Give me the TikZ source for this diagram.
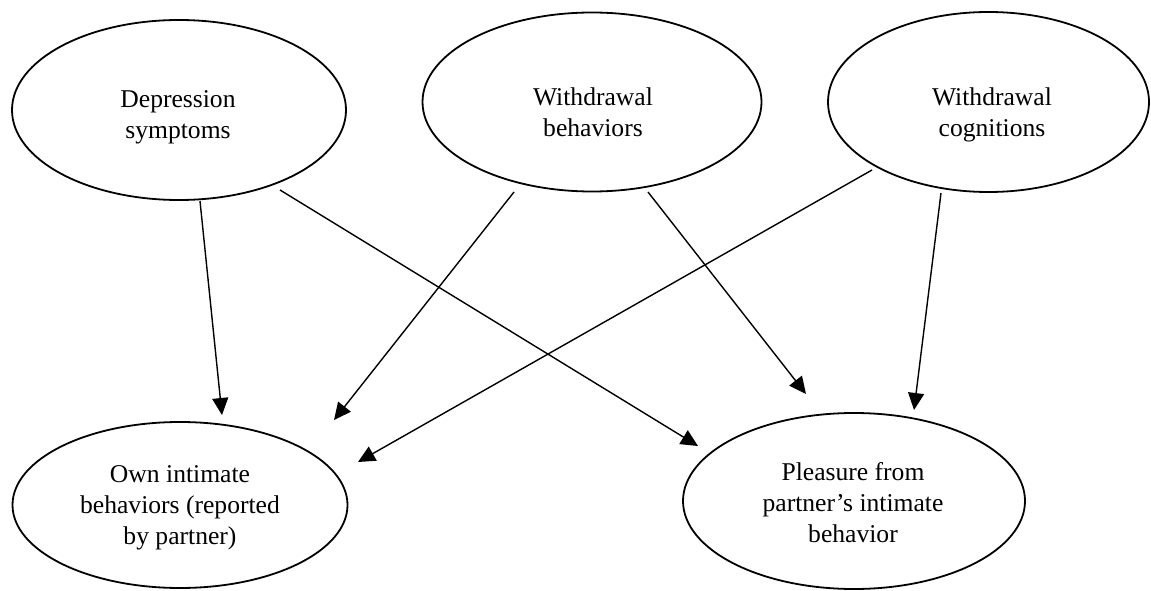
\documentclass[tikz,border=0pt]{standalone}
\usepackage{fontspec}
\setmainfont{Liberation Serif}
\usetikzlibrary{shapes.geometric,arrows.meta}
\begin{document}
\begin{tikzpicture}[x=1pt,y=-1pt,
  oval/.style={draw, ellipse, line width=1.8pt, inner sep=0pt},
  lbl/.style={align=center, font=\fontsize{25.6}{31}\selectfont, inner sep=0pt},
  arr/.style={line width=1.4pt, -{Triangle[length=17pt,width=16pt]}}]
\useasboundingbox (0,0) rectangle (1151,591);
% ellipses
\node[oval, minimum width=334pt, minimum height=180pt] (dep) at (179,110) {};
\node[oval, minimum width=339pt, minimum height=179pt] (wb) at (592,102) {};
\node[oval, minimum width=321pt, minimum height=180pt] (wc) at (988.5,102) {};
\node[oval, minimum width=335pt, minimum height=166pt] (own) at (180,505) {};
\node[oval, minimum width=342pt, minimum height=176pt] (ple) at (854,501) {};
% labels
\node[lbl] (dep-t) at (178,117) {\strut Depression\\\strut symptoms};
\node[lbl] (wb-t) at (593,115) {\strut Withdrawal\\\strut behaviors};
\node[lbl] (wc-t) at (992,115) {\strut Withdrawal\\\strut cognitions};
\node[lbl] (own-t) at (180,507) {\strut Own intimate\\\strut behaviors (reported\\\strut by partner)};
\node[lbl] (ple-t) at (853,505) {\strut Pleasure from\\\strut partner’s intimate\\\strut behavior};
% connector end points
\coordinate (dep-a) at (200,201);
\coordinate (dep-b) at (280,190);
\coordinate (wb-a) at (514,192);
\coordinate (wb-b) at (648,192);
\coordinate (wc-a) at (872,170);
\coordinate (wc-b) at (941,193);
\coordinate (own-1) at (222,415);
\coordinate (own-2) at (334,420);
\coordinate (own-3) at (358,462);
\coordinate (ple-1) at (698,446);
\coordinate (ple-2) at (806,394);
\coordinate (ple-3) at (914,410);
% connectors
\draw[arr] (dep-a) -- (own-1);
\draw[arr] (dep-b) -- (ple-1);
\draw[arr] (wb-a) -- (own-2);
\draw[arr] (wb-b) -- (ple-2);
\draw[arr] (wc-a) -- (own-3);
\draw[arr] (wc-b) -- (ple-3);
\end{tikzpicture}
\end{document}
